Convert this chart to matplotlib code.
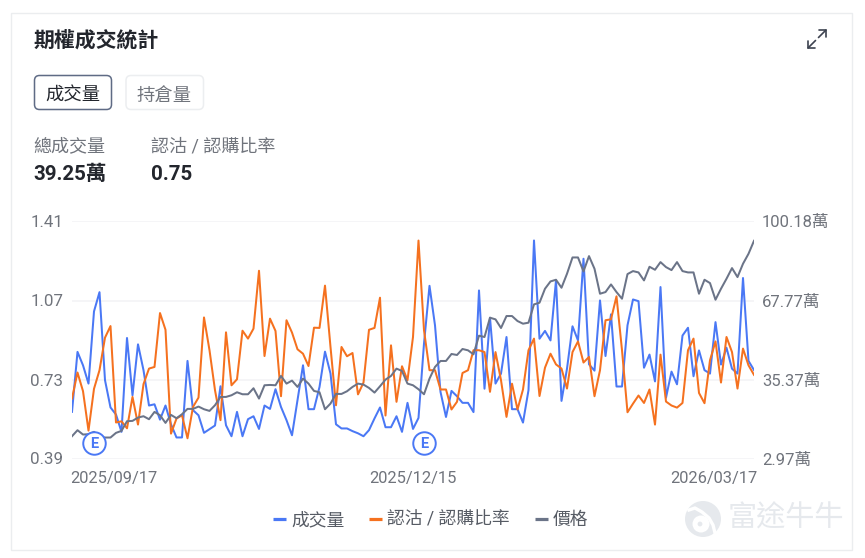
import numpy as np
import matplotlib
matplotlib.use("Agg")
from matplotlib import pyplot as plt
from matplotlib.lines import Line2D
from matplotlib.patches import Circle, FancyBboxPatch, Rectangle
from matplotlib.transforms import ScaledTranslation

plt.rcParams['font.family'] = ['Roboto', 'Noto Sans CJK TC']

# 認沽/認購比率 (left axis)
ratio = [0.648, 0.76, 0.68, 0.51, 0.69, 0.77, 0.91, 0.96, 0.545, 0.55, 0.52, 0.655, 0.536, 0.71, 0.777,
         0.784, 1.016, 0.944, 0.497, 0.562, 0.576, 0.477, 0.612, 0.652, 0.997, 0.856, 0.684, 0.555, 0.933,
         0.705, 0.731, 0.94, 0.906, 0.949, 1.198, 0.831, 0.992, 0.939, 0.658, 0.985, 0.932, 0.86, 0.841,
         0.788, 0.953, 0.952, 1.134, 0.87, 0.619, 0.87, 0.83, 0.844, 0.666, 0.717, 0.944, 0.952, 1.082,
         0.575, 0.877, 0.634, 0.787, 0.727, 0.913, 1.328, 0.942, 0.77, 0.77, 0.687, 0.687, 0.601, 0.634,
         0.758, 0.77, 0.856, 0.856, 0.848, 0.677, 0.848, 0.727, 0.569, 0.712, 0.601, 0.687, 0.856, 0.906,
         0.659, 0.781, 0.841, 0.795, 0.777, 0.691, 0.848, 0.894, 0.803, 0.827, 0.658, 0.77, 0.985, 0.989,
         1.088, 0.856, 0.589, 0.626, 0.661, 0.629, 0.687, 0.536, 0.837, 0.635, 0.618, 0.609, 0.629, 0.856,
         0.906, 0.672, 0.628, 0.813, 0.894, 0.717, 0.913, 0.848, 0.691, 0.863, 0.791, 0.75]

# 成交量, in 萬 (right axis)
volume = [22.1, 46.7, 41.2, 33.7, 63.3, 71.2, 35.1, 23.9, 21.0, 13.9, 52.4, 28.9, 49.8, 39.2, 24.7,
          25.2, 18.9, 24.7, 17.0, 11.6, 11.6, 43.0, 22.8, 20.7, 13.5, 15.0, 16.5, 32.6, 16.6, 12.1,
          22.1, 12.1, 19.1, 20.3, 15.1, 24.7, 23.3, 31.4, 24.1, 18.7, 12.5, 26.9, 41.2, 23.2, 23.2,
          32.3, 46.8, 37.8, 17.0, 15.3, 15.3, 14.2, 13.3, 12.1, 14.6, 19.4, 23.9, 15.8, 15.8, 20.3,
          13.9, 25.8, 15.1, 19.6, 50.1, 73.8, 57.6, 30.3, 20.0, 30.7, 28.5, 25.8, 25.8, 22.0, 71.9,
          31.6, 60.7, 33.7, 37.8, 52.8, 23.2, 23.2, 17.7, 31.0, 92.4, 52.1, 55.3, 51.4, 76.0, 26.6,
          39.8, 57.2, 51.4, 84.9, 41.6, 39.0, 67.8, 45.0, 62.1, 32.5, 32.5, 57.6, 68.2, 67.5, 40.2,
          45.6, 34.6, 73.3, 27.9, 38.6, 33.4, 53.4, 56.6, 36.7, 47.3, 39.2, 37.8, 58.9, 41.5, 48.4,
          39.8, 37.8, 77.0, 43.0, 39.25]

# 價格 (no axis shown)
price = [23.35, 24.25, 23.6, 23.65, 24.0, 23.25, 23.15, 23.15, 23.85, 24.15, 25.6, 25.65, 26.15, 26.35, 25.9,
         27.0, 26.5, 25.35, 26.55, 26.05, 26.65, 27.45, 27.45, 27.8, 27.4, 27.15, 28.0, 29.25, 29.25, 29.5,
         29.95, 29.65, 29.65, 30.55, 29.0, 31.0, 31.05, 31.0, 32.4, 31.25, 31.7, 30.75, 32.0, 31.25, 30.15,
         29.95, 27.4, 28.25, 29.7, 29.7, 30.1, 30.75, 31.25, 31.1, 30.6, 29.9, 30.85, 31.85, 32.4, 33.5,
         33.15, 31.25, 31.0, 30.4, 29.65, 32.0, 33.75, 34.65, 34.65, 35.7, 35.55, 36.45, 36.25, 35.65, 38.45,
         38.25, 41.15, 40.9, 39.6, 41.4, 41.4, 40.65, 40.25, 40.4, 43.15, 43.4, 45.5, 46.6, 46.85, 45.65,
         47.75, 50.2, 50.2, 48.1, 50.4, 48.5, 44.75, 45.0, 46.15, 45.0, 44.0, 47.7, 48.15, 47.95, 46.75,
         48.8, 48.35, 49.5, 48.75, 48.3, 49.5, 48.15, 47.95, 47.95, 44.75, 46.85, 46.35, 43.85, 45.5, 47.0,
         48.6, 47.25, 49.25, 50.75, 52.7]

ratio_ticks = [0.39, 0.73, 1.07, 1.41]
volume_ticks = [2.97, 35.37, 67.77, 100.18]
volume_labels = ['2.97萬', '35.37萬', '67.77萬', '100.18萬']
date_idx = [0, 62, 124]
date_labels = ['2025/09/17', '2025/12/15', '2026/03/17']
earnings_idx = [4, 64]

BLUE = '#4a78f5'
ORANGE = '#f5711f'
SLATE = '#6b7488'
GREY_TXT = '#70747c'
DARK = '#23262d'
W, H = 865, 558

fig = plt.figure(figsize=(W / 100, H / 100), dpi=100)

# card furniture is laid out in pixels, y pointing down
bg = fig.add_axes([0, 0, 1, 1], zorder=0)
bg.set_xlim(0, W)
bg.set_ylim(H, 0)
bg.axis('off')

bg.add_patch(Rectangle((10.5, 12.5), 841, 537, fc='white', ec='#ebedef', lw=1))
bg.text(33.5, 40, '期權成交統計', fontsize=15, weight='bold', color=DARK, va='center')

bg.add_patch(FancyBboxPatch((34.5, 75.5), 77, 34, boxstyle='round,pad=0,rounding_size=5',
                            fc='white', ec='#5f6b85', lw=1.1))
bg.add_patch(FancyBboxPatch((126, 75.5), 77.5, 34, boxstyle='round,pad=0,rounding_size=5',
                            fc='white', ec='#eceef0', lw=1.1))
bg.text(73, 95.5, '成交量', fontsize=13.2, color=DARK, ha='center', va='center')
bg.text(164.5, 95.5, '持倉量', fontsize=13.2, color=GREY_TXT, ha='center', va='center')

bg.text(33.5, 146.5, '總成交量', fontsize=13, color=GREY_TXT, va='center')
bg.text(151, 146.5, '認沽 / 認購比率', fontsize=13, color=GREY_TXT, va='center')
bg.text(33.5, 174.5, '39.25萬', fontsize=14.8, weight='bold', color=DARK, va='center')
bg.text(151, 174.5, '0.75', fontsize=14.8, weight='bold', color=DARK, va='center')

# expand icon, top right
ICON = '#3d4350'
for tip_x, tip_y, sx, sy in [(826, 30, -1, 1), (808, 48, 1, -1)]:
    bg.plot([tip_x + 7 * sx, tip_x, tip_x], [tip_y, tip_y, tip_y + 7 * sy], color=ICON, lw=1.2,
            solid_capstyle='round')
    bg.plot([tip_x, tip_x + 7.5 * sx], [tip_y, tip_y + 7.5 * sy], color=ICON, lw=1.2, solid_capstyle='round')

# watermark
WM = '#e6e9ed'
bg.add_patch(Circle((703, 519), 18, fc=WM, ec='none'))
bg.add_patch(Circle((701, 524), 8.5, fc='white', ec='none'))
bg.plot([689, 695, 702, 709, 713, 715], [510, 508, 512, 518, 525, 533], color='white', lw=2.4)
bg.add_patch(Circle((700, 524), 2.4, fc=WM, ec='none'))
bg.text(728, 519, '富途牛牛', fontsize=21, color=WM, va='center')

# chart axes: volume at the bottom, price on top
rect = [72 / W, (H - 458.5) / H, 682 / W, 237 / H]
ax = fig.add_axes(rect, zorder=2)
ax.patch.set_visible(False)
ax_vol = ax.twinx()
ax_vol.set_zorder(1)
ax_vol.patch.set_visible(False)
ax_price = ax.twinx()
ax_price.set_zorder(3)
ax_price.patch.set_visible(False)

x = np.arange(len(ratio))
ax_vol.plot(x, volume, color=BLUE, lw=1.45, solid_joinstyle='round')
ax.plot(x, ratio, color=ORANGE, lw=1.45, solid_joinstyle='round')
ax_price.plot(x, price, color=SLATE, lw=1.45, solid_joinstyle='round')

ax.set_xlim(0, 124)
ax.set_ylim(0.39, 1.41)
ax_vol.set_ylim(2.97, 100.18)
ax_price.set_ylim(20, 55.6)

ax.set_yticks(ratio_ticks)
ax.set_yticklabels(['%.2f' % v for v in ratio_ticks])
ax.tick_params(axis='y', length=0, pad=6.3, labelsize=12.2, labelcolor=GREY_TXT)
ax.set_xticks(date_idx)
ax.set_xticklabels(date_labels)
ax.tick_params(axis='x', length=0, pad=9.2, labelsize=11.9, labelcolor=GREY_TXT)
# first and last dates sit just past the ends of the axis
for lab, ha, dx in zip(ax.get_xticklabels(), ['left', 'center', 'right'], [-1.5, 0, 3.5]):
    lab.set_ha(ha)
    lab.set_transform(lab.get_transform() + ScaledTranslation(dx / 100, 0, fig.dpi_scale_trans))

ax_vol.set_yticks(volume_ticks)
ax_vol.set_yticklabels(volume_labels)
ax_vol.tick_params(axis='y', length=0, pad=5.8, labelsize=12, labelcolor=GREY_TXT)
ax_vol.grid(axis='y', color='#f2f3f5', lw=1.1)
ax_price.set_yticks([])

for lab in ax.get_yticklabels() + ax_vol.get_yticklabels():
    lab.set_verticalalignment('center_baseline')

for a in (ax, ax_vol, ax_price):
    for s in a.spines.values():
        s.set_visible(False)

# earnings markers
for i in earnings_idx:
    ax_price.plot(i, 0.457, 'o', ms=16.2, mfc='white', mec=BLUE, mew=1.4,
                  transform=ax.transData, clip_on=False)
    ax_price.annotate('E', (i, 0.457), xycoords=ax.transData, ha='center', va='center_baseline',
                      fontsize=10.5, weight='bold', color=BLUE, zorder=20)

handles = [Line2D([], [], color=c, lw=2.3, solid_capstyle='butt') for c in (BLUE, ORANGE, SLATE)]
fig.legend(handles, ['成交量', '認沽 / 認購比率', '價格'], loc='center', bbox_to_anchor=(430.5 / W, (H - 520) / H),
           ncols=3, frameon=False, fontsize=12.8, labelcolor='#565b64', handlelength=0.73,
           handletextpad=0.28, columnspacing=1.4, borderpad=0)

fig.savefig('out.png', dpi=100)
